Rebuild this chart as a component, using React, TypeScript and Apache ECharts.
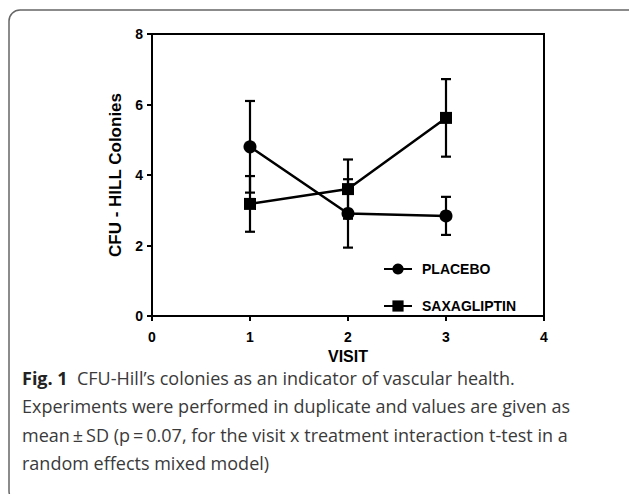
import React, { useEffect, useRef } from "react";
import * as echarts from "echarts";

const visits = [1, 2, 3];
const placeboMean = [4.8, 2.91, 2.84];
const placeboSD = [1.3, 0.97, 0.54];
const saxaMean = [3.18, 3.6, 5.62];
const saxaSD = [0.79, 0.84, 1.1];
const xTicks = [0, 1, 2, 3, 4];
const yTicks = [0, 2, 4, 6, 8];

const captionBold = "Fig. 1";
const captionLines = [
  "CFU-Hill\u2019s colonies as an indicator of vascular health.",
  "Experiments were performed in duplicate and values are given as",
  "mean\u2009\u00B1\u2009SD (p\u2009=\u20090.07, for the visit x treatment interaction t-test in a",
  "random effects mixed model)",
];

const AXIS_FONT = "'Liberation Sans', Arial, sans-serif";
const CAP_FONT = "'Open Sans', 'Noto Sans', sans-serif";

function errData(means: number[], sds: number[]) {
  return visits.map((v, i) => [v, means[i] - sds[i], means[i] + sds[i]]);
}

function renderErr(params: any, api: any) {
  const x = api.value(0);
  const lo = api.coord([x, api.value(1)]);
  const hi = api.coord([x, api.value(2)]);
  const w = 5;
  const style = { stroke: "#000", lineWidth: 2.2 };
  return {
    type: "group",
    children: [
      { type: "line", shape: { x1: lo[0], y1: lo[1], x2: hi[0], y2: hi[1] }, style },
      { type: "line", shape: { x1: lo[0] - w, y1: lo[1], x2: lo[0] + w, y2: lo[1] }, style },
      { type: "line", shape: { x1: hi[0] - w, y1: hi[1], x2: hi[0] + w, y2: hi[1] }, style },
    ],
  };
}

export default function App() {
  const ref = useRef<HTMLDivElement>(null);
  useEffect(() => {
    if (!ref.current) return;
    const chart = echarts.init(ref.current, undefined, { renderer: "svg" });
    const capTop = 369;
    const capStep = 28.3;
    const captionGraphics: any[] = [
      {
        type: "text",
        left: 22,
        top: capTop,
        style: {
          text: "{b|" + captionBold + "}  " + captionLines[0],
          font: `18px ${CAP_FONT}`,
          fill: "#3a3a3a",
          rich: { b: { fontWeight: "bold", fontSize: 18, fontFamily: CAP_FONT, fill: "#222" } },
        },
      },
      ...captionLines.slice(1).map((t, i) => ({
        type: "text",
        left: 22,
        top: capTop + capStep * (i + 1),
        style: { text: t, font: `18px ${CAP_FONT}`, fill: "#3a3a3a" },
      })),
    ];
    chart.setOption({
      animation: false,
      backgroundColor: "#fff",
      grid: {
        left: 152,
        top: 34,
        right: 85,
        bottom: 178,
        show: true,
        borderColor: "#000",
        borderWidth: 2,
      },
      xAxis: {
        type: "value",
        min: xTicks[0],
        max: xTicks[xTicks.length - 1],
        interval: 1,
        name: "VISIT",
        nameLocation: "middle",
        nameGap: 31,
        nameTextStyle: { fontFamily: AXIS_FONT, fontWeight: "bold", fontSize: 16, color: "#000" },
        axisLine: { show: true, lineStyle: { color: "#000", width: 2 } },
        axisTick: { show: true, length: 5, lineStyle: { color: "#000", width: 2 } },
        axisLabel: { fontFamily: AXIS_FONT, fontWeight: "bold", fontSize: 14, color: "#000", margin: 14 },
        splitLine: { show: false },
      },
      yAxis: {
        type: "value",
        min: yTicks[0],
        max: yTicks[yTicks.length - 1],
        interval: 2,
        name: "CFU - HILL Colonies",
        nameLocation: "middle",
        nameGap: 26,
        nameRotate: 90,
        nameTextStyle: { fontFamily: AXIS_FONT, fontWeight: "bold", fontSize: 17, color: "#000" },
        axisLine: { show: true, lineStyle: { color: "#000", width: 2 } },
        axisTick: { show: true, length: 5, lineStyle: { color: "#000", width: 2 } },
        axisLabel: { fontFamily: AXIS_FONT, fontWeight: "bold", fontSize: 14, color: "#000", margin: 9 },
        splitLine: { show: false },
      },
      legend: {
        orient: "vertical",
        left: 378,
        top: 257,
        itemGap: 23,
        itemWidth: 28,
        itemHeight: 14,
        data: ["PLACEBO", "SAXAGLIPTIN"],
        textStyle: { fontFamily: AXIS_FONT, fontWeight: "bold", fontSize: 14, color: "#000", padding: [0, 0, 0, 5] },
      },
      series: [
        {
          name: "placeboErr",
          type: "custom",
          renderItem: renderErr,
          data: errData(placeboMean, placeboSD),
          z: 1,
        },
        {
          name: "saxaErr",
          type: "custom",
          renderItem: renderErr,
          data: errData(saxaMean, saxaSD),
          z: 1,
        },
        {
          name: "PLACEBO",
          type: "line",
          data: visits.map((v, i) => [v, placeboMean[i]]),
          symbol: "circle",
          symbolSize: 13,
          lineStyle: { color: "#000", width: 2.5 },
          itemStyle: { color: "#000" },
          z: 3,
        },
        {
          name: "SAXAGLIPTIN",
          type: "line",
          data: visits.map((v, i) => [v, saxaMean[i]]),
          symbol: "rect",
          symbolSize: 12,
          lineStyle: { color: "#000", width: 2.5 },
          itemStyle: { color: "#000" },
          z: 3,
        },
      ],
      graphic: [
        {
          type: "rect",
          shape: { x: 9, y: 10, width: 700, height: 492, r: 11 },
          style: { fill: "none", stroke: "#666", lineWidth: 1.5 },
          silent: true,
        },
        ...captionGraphics,
      ],
    });
    return () => chart.dispose();
  }, []);
  return (
    <div
      ref={ref}
      style={{ position: "absolute", left: 0, top: 0, width: 629, height: 494 }}
    />
  );
}
